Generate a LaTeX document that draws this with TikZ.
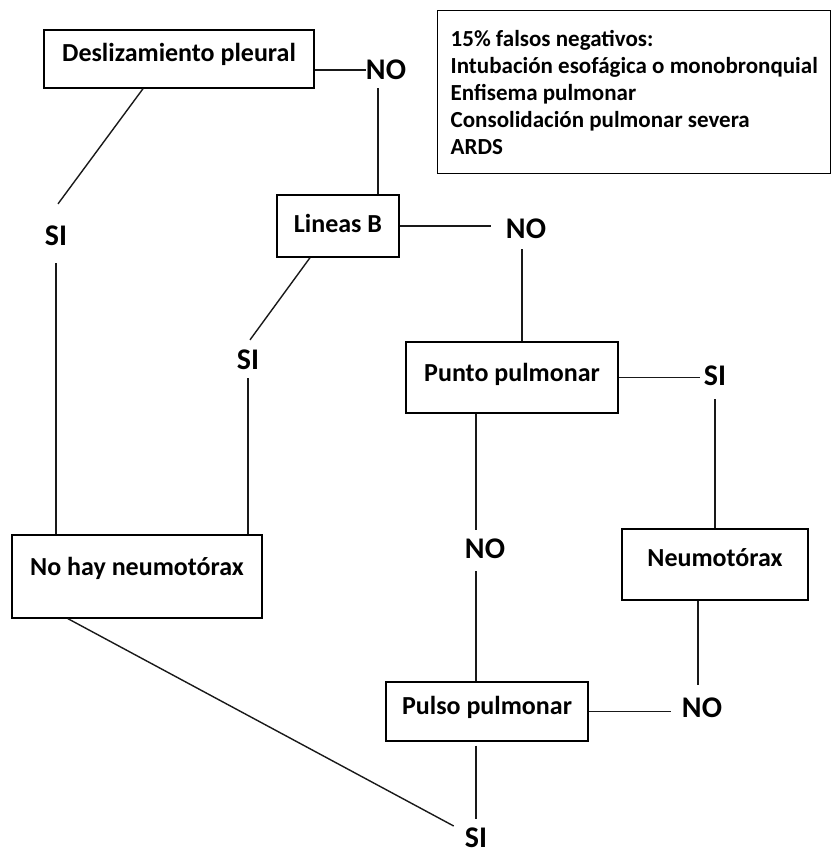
\documentclass[tikz,border=0pt]{standalone}
\usepackage{fontspec}
\setmainfont{Carlito}
\usepackage{tikz}
\usetikzlibrary{calc}

\begin{document}
\begin{tikzpicture}[
    x=1pt, y=-1pt,
    box/.style={rectangle, draw=black, line width=1.4pt, fill=white, inner sep=0pt, text height=18pt, text depth=6pt, font=\fontsize{26}{30}\selectfont\bfseries, align=center},
    lbl/.style={inner sep=0pt, font=\fontsize{30}{34}\selectfont\bfseries},
    infobox/.style={rectangle, draw=black, line width=1.4pt, anchor=north west, inner xsep=13pt, minimum height=163pt, align=left, font=\fontsize{23}{27}\selectfont\bfseries},
    link/.style={line width=1.4pt, black!90}
]
    \useasboundingbox (0,0) rectangle (833,854);

    % Decision boxes
    \node[box, minimum width=270pt, minimum height=58pt, text depth=14pt] (desl) at (179,59) {Deslizamiento pleural};
    \node[box, minimum width=122pt, minimum height=62pt] (lineas) at (338,226) {Lineas B};
    \node[box, minimum width=212pt, minimum height=71pt, text depth=11pt] (punto) at (512,377.5) {Punto pulmonar};
    \node[box, minimum width=202pt, minimum height=59pt, text depth=13pt] (pulso) at (487,711.5) {Pulso pulmonar};

    % Outcomes
    \node[box, minimum width=250pt, minimum height=83pt, text depth=20pt] (nohay) at (137,576.5) {No hay neumotórax};
    \node[box, minimum width=186pt, minimum height=71pt, text depth=14pt] (neumo) at (715,564.5) {Neumotórax};

    % Answers
    \node[lbl] (no1) at (386,70) {NO};
    \node[lbl] (si1) at (56,236) {SI};
    \node[lbl] (no2) at (526,229) {NO};
    \node[lbl] (si2) at (248,360) {SI};
    \node[lbl] (si3) at (715,376) {SI};
    \node[lbl] (no3) at (485,549) {NO};
    \node[lbl] (no4) at (702,708) {NO};
    \node[lbl] (si4) at (476,838) {SI};

    % False negatives note
    \node[infobox] (info) at (437,10) {15\% falsos negativos:\\
        Intubación esofágica o monobronquial\\
        Enfisema pulmonar\\
        Consolidación pulmonar severa\\
        ARDS};

    % Connectors
    \draw[link] (no1.west -| desl.east) -- (no1.west);
    \draw[link] ([xshift=-8pt,yshift=-8pt]no1.south) -- ([xshift=-8pt]no1.south |- lineas.north);
    \draw[link] ([xshift=-36pt]desl.south) -- ([xshift=2pt,yshift=22pt]si1.north);
    \draw[link] ([yshift=-17pt]si1.south) -- (si1.south |- nohay.north);
    \draw[link] (lineas.east) -- ([xshift=-15pt]lineas.east -| no2.west);
    \draw[link] ([xshift=-4pt,yshift=-10pt]no2.south) -- ([xshift=-4pt]no2.south |- punto.north);
    \draw[link] ([xshift=-28pt]lineas.south) -- ([xshift=2pt,yshift=10pt]si2.north);
    \draw[link] ([yshift=-8pt]si2.south) -- (si2.south |- nohay.north);
    \draw[link] (punto.east) -- ([xshift=-4pt]punto.east -| si3.west);
    \draw[link] ([yshift=-13pt]si3.south) -- (si3.south |- neumo.north);
    \draw[link] ([xshift=-9pt]no3.north |- punto.south) -- ([xshift=-9pt,yshift=9pt]no3.north);
    \draw[link] ([xshift=-9pt,yshift=-12pt]no3.south) -- ([xshift=-9pt]no3.south |- pulso.north);
    \draw[link] ([xshift=-4pt]no4.north |- neumo.south) -- ([xshift=-4pt,yshift=13pt]no4.north);
    \draw[link] (pulso.east) -- ([xshift=-11pt]pulso.east -| no4.west);
    \draw[link] ([yshift=-4pt]pulso.south -| si4.north) -- ([yshift=9pt]si4.north);
    \draw[link] ([xshift=-69pt]nohay.south) -- ([xshift=-11pt,yshift=12pt]si4.west);
\end{tikzpicture}
\end{document}
